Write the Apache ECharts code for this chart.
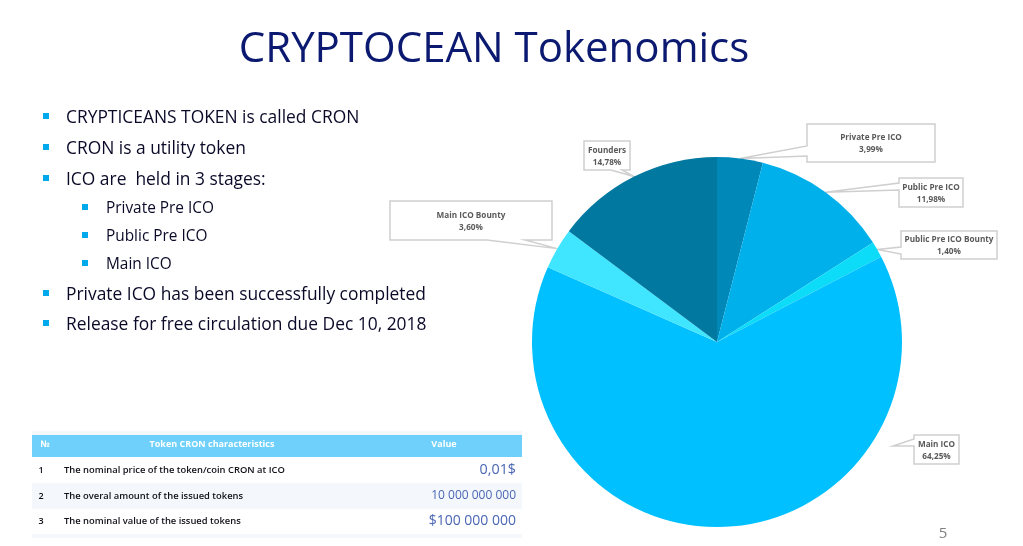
<!DOCTYPE html>
<html>
<head>
<meta charset="utf-8">
<title>CRYPTOCEAN Tokenomics</title>
<script src="https://cdn.jsdelivr.net/npm/echarts@6/dist/echarts.min.js"></script>
<style>
html,body{margin:0;padding:0;background:#fff;}
#main{width:1023px;height:546px;}
</style>
</head>
<body>
<div id="main"></div>
<script>
// pie data
var names = ['Private Pre ICO', 'Public Pre ICO', 'Public Pre ICO Bounty', 'Main ICO', 'Main ICO Bounty', 'Founders'];
var values = [3.99, 11.98, 1.40, 64.25, 3.60, 14.78];
var colors = ['#0088b8', '#00b0ea', '#0cdcf8', '#00c0ff', '#40e6ff', '#00789f'];

// slide text
var bullets = ['CRYPTICEANS TOKEN is called CRON', 'CRON is a utility token', 'ICO are  held in 3 stages:'];
var subBullets = ['Private Pre ICO', 'Public Pre ICO', 'Main ICO'];
var endBullets = ['Private ICO has been successfully completed', 'Release for free circulation due Dec 10, 2018'];

// table text
var tableHead = ['№', 'Token CRON characteristics', 'Value'];
var rowNo = ['1', '2', '3'];
var rowName = ['The nominal price of the token/coin CRON at ICO', 'The overal amount of the issued tokens', 'The nominal value of the issued tokens'];
var rowValue = ['0,01$', '10 000 000 000', '$100 000 000'];

// callout boxes: x, y, w, h, side of the wedge, wedge start, wedge end
var boxes = [
    [807, 124, 128, 38, 'left', 146, 156],
    [899, 178, 64, 29, 'left', 183, 190],
    [901, 231, 96, 28, 'left', 247, 254],
    [914, 435, 45, 29, 'left', 439, 446],
    [390, 201, 162, 39, 'bottom', 525, 487],
    [584, 141, 46, 29, 'bottom', 622, 611]
];

var cx = 717, cy = 342, radius = 185;
var font = '"Open Sans","Noto Sans",sans-serif';
var chart = echarts.init(document.getElementById('main'));
var elements = [];

function addText(text, x, y, size, color, align, weight) {
    elements.push({
        type: 'text', x: x, y: y, z: 5,
        style: {
            text: text, fill: color, align: align || 'left', verticalAlign: 'middle',
            fontFamily: font, fontSize: size, fontWeight: weight || 'normal'
        }
    });
}
function addRect(x, y, w, h, color) {
    elements.push({ type: 'rect', z: 1, shape: { x: x, y: y, width: w, height: h }, style: { fill: color } });
}

// title and page number
addText('CRYPTOCEAN Tokenomics', 494, 50, 42, '#0b1a70', 'center');
addText('5', 943, 534, 15, '#808080', 'center');

// bullet list
var bulletRows = [116, 147, 178];
bullets.forEach(function (t, i) {
    addRect(43, bulletRows[i] - 3, 6, 6, '#00a8ec');
    addText(t, 66, bulletRows[i] + 2, 17.4, '#0a0a28');
});
var subRows = [207, 235, 263];
subBullets.forEach(function (t, i) {
    addRect(82, subRows[i] - 3, 6, 6, '#00a8ec');
    addText(t, 106, subRows[i] + 2, 15.4, '#0a0a28');
});
var endRows = [293, 323];
endBullets.forEach(function (t, i) {
    addRect(43, endRows[i] - 3, 6, 6, '#00a8ec');
    addText(t, 66, endRows[i] + 2, 17.4, '#0a0a28');
});

// table
addRect(32, 431, 490, 4, '#f4f8fc');
addRect(32, 435, 490, 22, '#6fd1fb');
addRect(32, 483, 490, 26, '#f4f8fc');
addRect(32, 534, 490, 4, '#f4f8fc');
addText(tableHead[0], 45, 444, 9, '#ffffff', 'center', 'bold');
addText(tableHead[1], 212, 444, 9, '#ffffff', 'center', 'bold');
addText(tableHead[2], 444, 444, 9, '#ffffff', 'center', 'bold');
var tableRows = [470, 496, 521];
var valueSize = [14.3, 12, 14];
rowNo.forEach(function (t, i) {
    addText(t, 41, tableRows[i], 9, '#101018', 'center', 600);
    addText(rowName[i], 64, tableRows[i], 9.4, '#101018', 'left', 600);
    addText(rowValue[i], 516, tableRows[i], valueSize[i], '#4a66b4', 'right');
});

// callouts, the wedge points to the middle of the slice
var sum = 0;
values.forEach(function (v, i) {
    var a = (sum + v / 2) / 100 * Math.PI * 2;
    sum += v;
    var tip = [cx + radius * Math.sin(a), cy - radius * Math.cos(a)];
    var b = boxes[i];
    // Main ICO wedge stops short of its slice
    if (names[i] === 'Main ICO') tip = [893, 446];
    var x = b[0], y = b[1], r = b[0] + b[2], d = b[1] + b[3], pts;
    if (b[4] === 'left') {
        pts = [[x, y], [r, y], [r, d], [x, d], [x, b[6]], tip, [x, b[5]]];
    } else {
        pts = [[x, y], [r, y], [r, d], [b[5], d], tip, [b[6], d], [x, d]];
    }
    elements.push({
        type: 'polygon', z: 1,
        shape: { points: pts },
        style: { fill: '#ffffff', stroke: '#cfcfcf', lineWidth: 1.5 }
    });
});

chart.setOption({
    animation: false,
    backgroundColor: '#ffffff',
    graphic: { elements: elements },
    series: [{
        type: 'pie',
        z: 2,
        center: [cx, cy],
        radius: [0, radius],
        startAngle: 90,
        clockwise: true,
        silent: true,
        data: names.map(function (n, i) {
            return { name: n, value: values[i], itemStyle: { color: colors[i] } };
        }),
        label: {
            show: true,
            position: 'outside',
            color: '#595959',
            fontFamily: font,
            fontSize: 8.2,
            fontWeight: 'bold',
            lineHeight: 12,
            align: 'center',
            formatter: function (p) {
                return p.name + '\n' + p.value.toFixed(2).replace('.', ',') + '%';
            }
        },
        labelLine: { show: false },
        labelLayout: function (p) {
            var b = boxes[p.dataIndex];
            return { x: b[0] + b[2] / 2, y: b[1] + b[3] / 2 + 1, align: 'center', verticalAlign: 'middle' };
        }
    }]
});
</script>
</body>
</html>
